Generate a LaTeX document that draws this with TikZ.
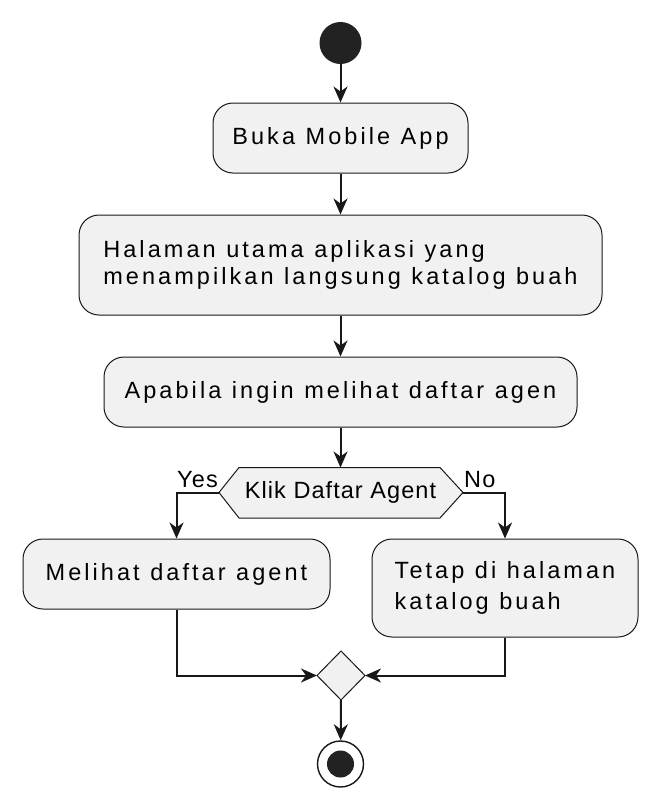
\documentclass[tikz,border=0pt]{standalone}
\usepackage{fontspec}
\setmainfont{Liberation Sans}[LetterSpace=13,WordSpace=1.1]
\newfontfamily\decfont{Liberation Sans}[LetterSpace=4.5]
\newfontfamily\plainfont{Liberation Sans}[LetterSpace=5]
\usetikzlibrary{arrows.meta}
\definecolor{bfill}{HTML}{F1F1F1}
\definecolor{bline}{HTML}{181818}
\definecolor{dot}{HTML}{222222}
\begin{document}
\begin{tikzpicture}[x=1pt,y=-1pt,
  actbox/.style={draw=bline,fill=bfill,line width=1pt,rounded corners=20pt,inner sep=0pt,
    font=\fontsize{23.5pt}{27.5pt}\selectfont,text=black},
  arr/.style={draw=bline,line width=2pt,-{Stealth[length=16pt,width=14pt,inset=5pt]}},
  lbl/.style={font=\plainfont\fontsize{23.5pt}{28pt}\selectfont,inner sep=0pt,text=black}]
\useasboundingbox[fill=white] (0,0) rectangle (662,809);
\node[circle,fill=dot,minimum size=42pt,inner sep=0pt] (start) at (340.5,43) {};
\node[actbox,minimum width=255pt,minimum height=70pt] (b1) at (340.5,138) {Buka Mobile App};
\node[actbox,minimum width=523pt,minimum height=100pt,align=left] (b2) at (340.5,265) {Halaman utama aplikasi yang\\menampilkan langsung katalog buah};
\node[actbox,minimum width=473pt,minimum height=70pt] (b3) at (340.5,392) {Apabila ingin melihat daftar agen};
% decision hexagon
\coordinate (hl) at (219,492.5);
\coordinate (hr) at (463,492.5);
\coordinate (ht) at (340.5,467.5);
\draw[draw=bline,fill=bfill,line width=1pt] (hl) -- (239,467.5) -- (440,467.5) -- (hr) -- (440,518) -- (239,518) -- cycle;
\node[lbl,font=\decfont\fontsize{23.5pt}{28pt}\selectfont] (dec) at (340.5,492.5) {Klik Daftar Agent};
\node[lbl,anchor=south east] (yes) at (218,488) {Yes};
\node[lbl,anchor=south west] (no) at (464,488) {No};
\node[actbox,minimum width=307pt,minimum height=70pt] (lb) at (176.5,574) {Melihat daftar agent};
\node[actbox,minimum width=266pt,minimum height=98pt,align=left,
  font=\fontsize{23.5pt}{30.5pt}\selectfont] (rb) at (505,588) {Tetap di halaman\\katalog buah};
% merge diamond
\coordinate (mw) at (317,675.5);
\coordinate (me) at (365,675.5);
\coordinate (mn) at (341,651);
\coordinate (ms) at (341,700);
\draw[draw=bline,fill=bfill,line width=1pt] (mw) -- (mn) -- (me) -- (ms) -- cycle;
% end
\node[circle,draw=bline,line width=1.4pt,fill=white,minimum size=46pt,inner sep=0pt] (endo) at (340.5,764) {};
\node[circle,fill=dot,minimum size=27pt,inner sep=0pt] (endi) at (340.5,764) {};
% connectors
\draw[arr] (start) -- (b1);
\draw[arr] (b1) -- (b2);
\draw[arr] (b2) -- (b3);
\draw[arr] (b3) -- (ht);
\draw[arr] (hl) -| (lb.north);
\draw[arr] (hr) -| (rb.north);
\draw[arr] (lb.south) |- (mw);
\draw[arr] (rb.south) |- (me);
\draw[arr] (ms) -- (endo);
\end{tikzpicture}
\end{document}
